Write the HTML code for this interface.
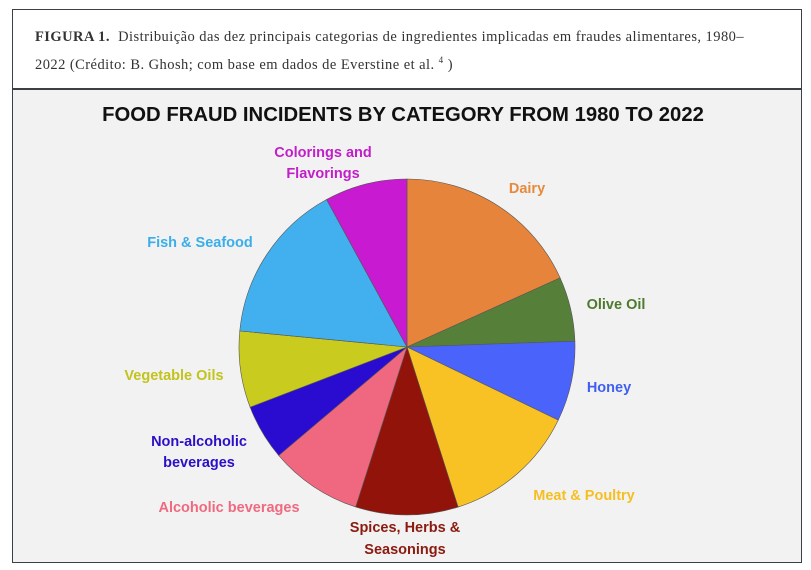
<!DOCTYPE html>
<html><head><meta charset="utf-8"><style>
body{margin:0;width:811px;height:570px;background:#fff;overflow:hidden;font-family:"Liberation Serif",serif}
.box{position:absolute;left:12px;top:9px;width:788px;height:551px;border:1.5px solid #3a3f48;border-bottom-width:2px}
.cap{position:absolute;left:35px;top:26px;font-size:14.5px;line-height:23px;color:#333;white-space:nowrap}
.grey{position:absolute;left:13px;top:88px;width:788px;height:472px;background:#f2f2f2;border-top:2px solid #3a3f48}
svg{position:absolute;left:0;top:0}
</style></head><body>
<div class="box"></div>
<div class="cap"><span style="letter-spacing:0.45px"><b>FIGURA 1.</b>&nbsp; Distribuição das dez principais categorias de ingredientes implicadas em fraudes alimentares, 1980–</span><br><span style="letter-spacing:0.45px">2022 (Crédito: B. Ghosh; com base em dados de Everstine et al. <sup style="font-size:9px">4</sup> )</span></div>
<div class="grey"></div>
<svg width="811" height="570" font-family="'Liberation Sans',sans-serif" font-weight="bold">
<text x="403" y="121" text-anchor="middle" font-size="20.3" fill="#111">FOOD FRAUD INCIDENTS BY CATEGORY FROM 1980 TO 2022</text>
<g id="pie" stroke="#555" stroke-width="0.6"></g>
<g font-size="14.5" text-anchor="middle">
<text x="323" y="157" fill="#c21ec9">Colorings and</text>
<text x="323" y="178" fill="#c21ec9">Flavorings</text>
<text x="527" y="193" fill="#e68a3d">Dairy</text>
<text x="200" y="247" fill="#3aaeea">Fish &amp; Seafood</text>
<text x="616" y="309" fill="#4e7a2c">Olive Oil</text>
<text x="174" y="380" fill="#c2c31c">Vegetable Oils</text>
<text x="609" y="392" fill="#3e5ff0">Honey</text>
<text x="199" y="446" fill="#2a0fc8">Non-alcoholic</text>
<text x="199" y="467" fill="#2a0fc8">beverages</text>
<text x="584" y="500" fill="#f5bf22">Meat &amp; Poultry</text>
<text x="229" y="512" fill="#ef6a80">Alcoholic beverages</text>
<text x="405" y="532" fill="#8b1a10">Spices, Herbs &amp;</text>
<text x="405" y="554" fill="#8b1a10">Seasonings</text>
</g>
</svg>
<script>
var cx=407,cy=347,r=168;
var a=[0,65.7,88,115.8,162.3,197.8,229.8,249,275.5,331.4,360];
var c=["#e6843c","#56803a","#4a64fb","#f8c224","#92130a","#f06880","#2a0bd0","#c9cc1e","#42b0ee","#c81ad0"];
var g=document.getElementById("pie"),s="";
function p(d){var t=d*Math.PI/180;return (cx+r*Math.sin(t)).toFixed(2)+","+(cy-r*Math.cos(t)).toFixed(2);}
for(var i=0;i<10;i++){var l=a[i+1]-a[i]>180?1:0;
s+='<path d="M'+cx+','+cy+' L'+p(a[i])+' A'+r+','+r+' 0 '+l+' 1 '+p(a[i+1])+' Z" fill="'+c[i]+'"/>';}
g.innerHTML=s;
</script>
</body></html>
